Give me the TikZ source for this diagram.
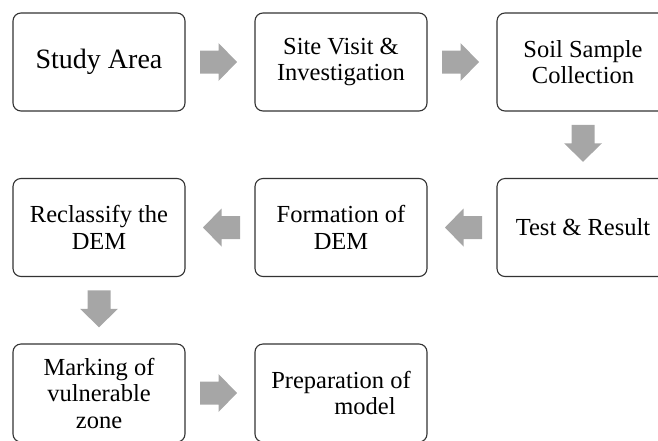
\documentclass[tikz,border=0pt]{standalone}
\usepackage{fontspec}
\setmainfont{Liberation Serif}
\usetikzlibrary{calc}
\begin{document}
\begin{tikzpicture}[x=1pt,y=-1pt,
  stepbox/.style={draw=black!80, line width=1.1pt, rounded corners=8pt, fill=white,
    minimum width=172pt, minimum height=98pt, inner sep=0pt, align=center,
    font=\fontsize{24.5}{26.5}\selectfont},
  arrowfill/.style={fill=black!35, draw=none}]
\useasboundingbox (0,0) rectangle (658,440);
\node[stepbox, font=\fontsize{28}{30}\selectfont] (b1) at (99,62) {Study Area};
\node[stepbox] (b2) at (341,62) {Site Visit \&\\Investigation};
\node[stepbox] (b3) at (583,62) {Soil Sample\\Collection};
\node[stepbox] (b4) at (583,227.5) {Test \& Result};
\node[stepbox] (b5) at (341,227.5) {Formation of\\DEM};
\node[stepbox] (b6) at (99,227.5) {Reclassify the\\DEM};
\node[stepbox] (b7) at (99,393) {Marking of\\vulnerable\\zone};
\node[stepbox] (b8) at (341,393) {Preparation of\\\hspace*{48pt}model};
\coordinate (a1) at ($(b1.east)!0.5!(b2.west)+(-1.5,0)$);
\coordinate (a2) at ($(b2.east)!0.5!(b3.west)+(-1.5,0)$);
\coordinate (a3) at ($(b3.south)!0.5!(b4.north)+(0,-1.5)$);
\coordinate (a4) at ($(b4.west)!0.5!(b5.east)+(1.5,0)$);
\coordinate (a5) at ($(b5.west)!0.5!(b6.east)+(1.5,0)$);
\coordinate (a6) at ($(b6.south)!0.5!(b7.north)+(0,-1.5)$);
\coordinate (a7) at ($(b7.east)!0.5!(b8.west)+(-1.5,0)$);
\foreach \c/\r in {a1/0,a2/0,a3/-90,a4/180,a5/180,a6/-90,a7/0}{
  \fill[arrowfill, shift={(\c)}, rotate=\r]
    (-18.5,-11.5) -- (0,-11.5) -- (0,-19) -- (18.5,0) -- (0,19) -- (0,11.5) -- (-18.5,11.5) -- cycle;
}
\end{tikzpicture}
\end{document}
